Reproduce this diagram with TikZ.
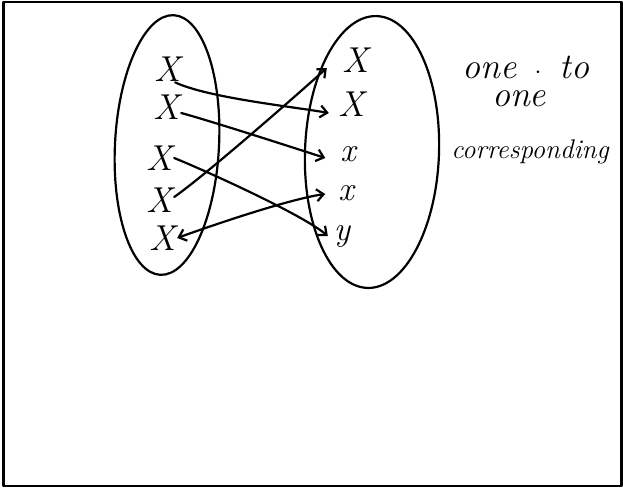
\documentclass[tikz,border=0pt]{standalone}
\usepackage{fontspec}
\setmainfont{Latin Modern Roman}
\usetikzlibrary{arrows.meta}
\begin{document}
\begin{tikzpicture}[x=1pt,y=-1pt,line width=2.2pt,line cap=round,line join=round,
  xmark/.style={font=\fontsize{36}{36}\selectfont\itshape,inner sep=0pt},
  smark/.style={font=\fontsize{34}{34}\selectfont\itshape,inner sep=0pt},
  hand/.style={font=\fontsize{36}{38}\selectfont\itshape,inner sep=0pt},
  arr/.style={-{Straight Barb[length=7pt,width=12pt]}},
  darr/.style={{Straight Barb[length=7pt,width=12pt]}-{Straight Barb[length=7pt,width=12pt]}}]
\useasboundingbox (0,0) rectangle (623,488);
\draw[line width=2.4pt] (3.5,1.8) rectangle (621.5,486);
% sets
\draw[rotate around={-3:(167,145)}] (167,145) ellipse [x radius=52pt,y radius=130pt];
\draw[rotate around={-2:(372,152)}] (372,152) ellipse [x radius=67pt,y radius=136pt];
% left elements
\node[xmark] (L1) at (168,69) {X};
\node[xmark] (L2) at (167,107) {X};
\node[xmark] (L3) at (160,158) {X};
\node[xmark] (L4) at (160,200) {X};
\node[xmark] (L5) at (163,238) {X};
% right elements
\node[xmark] (R1) at (356,60) {X};
\node[xmark] (R2) at (352,104) {X};
\node[smark] (R3) at (348,154) {x};
\node[smark] (R4) at (346,193) {x};
\node[smark] (R5) at (342,236) {y};
% correspondences
\draw[arr] ([xshift=-7pt]L1.south east) to[out=-25,in=170,looseness=0.6] ([xshift=-9pt,yshift=-9pt]R2.west);
\draw[arr] ([yshift=-6pt]L2.east) to[out=-15,in=162,looseness=0.5] ([xshift=-14pt,yshift=-4pt]R3.west);
\draw[arr] (L3.east) to[out=-22,in=140,looseness=0.5] ([xshift=-5pt]R5.west);
\draw[arr] ([yshift=3pt]L4.east) to[out=35,in=-138,looseness=0.5] ([xshift=-15pt,yshift=-8pt]R1.west);
\draw[darr] (L5.east) to[out=20,in=188,looseness=0.6] ([xshift=-12pt,yshift=-1pt]R4.west);
% caption
\node[hand] (t1) at (526,67) {one\enspace$\cdot$\enspace to};
\node[hand] (t2) at (519,99) {one};
\node[hand,font=\fontsize{27}{30}\selectfont\itshape] (t3) at (530,152) {corresponding};
\end{tikzpicture}
\end{document}
